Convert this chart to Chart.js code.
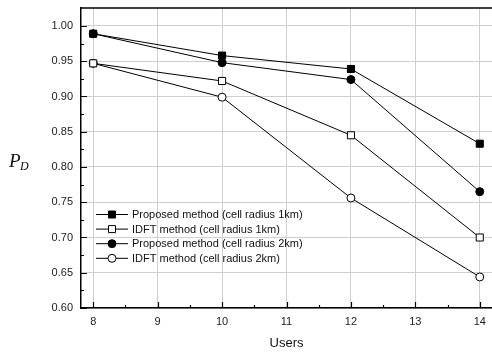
<!DOCTYPE html>
<html lang="en">
  <head>
    <meta charset="UTF-8" />
    <title>PD vs Users</title>
    <script src="https://cdn.jsdelivr.net/npm/chart.js"></script>
    <style>
      html, body { margin: 0; padding: 0; background: #fff; }
      #wrap { width: 492px; height: 354px; position: relative; }
    </style>
  </head>
  <body>
    <div id="wrap"><canvas id="pdChart"></canvas></div>
    <script>
      // data
      const users = [8, 10, 12, 14];
      const proposed1km = [0.989, 0.958, 0.939, 0.833];
      const idft1km = [0.947, 0.922, 0.845, 0.700];
      const proposed2km = [0.989, 0.948, 0.924, 0.765];
      const idft2km = [0.947, 0.899, 0.756, 0.644];
      const xTicks = [8, 9, 10, 11, 12, 13, 14];
      const yTicks = [0.6, 0.65, 0.7, 0.75, 0.8, 0.85, 0.9, 0.95, 1.0];

      const font = "'Liberation Sans', Arial, sans-serif";

      const series = [
        { label: "Proposed method (cell radius 1km)", data: proposed1km, style: "rect", fill: "#000" },
        { label: "IDFT method (cell radius 1km)", data: idft1km, style: "rect", fill: "#fff" },
        { label: "Proposed method (cell radius 2km)", data: proposed2km, style: "circle", fill: "#000" },
        { label: "IDFT method (cell radius 2km)", data: idft2km, style: "circle", fill: "#fff" },
      ];

      function drawMarker(ctx, style, fill, x, y) {
        ctx.save();
        ctx.fillStyle = fill;
        ctx.strokeStyle = "#000";
        ctx.lineWidth = 1;
        ctx.beginPath();
        if (style === "rect") {
          ctx.rect(x - 3.5, y - 3.5, 7, 7);
        } else {
          ctx.arc(x, y, 4, 0, Math.PI * 2);
        }
        ctx.fill();
        ctx.stroke();
        ctx.restore();
      }

      const decorPlugin = {
        id: "decor",
        afterDraw(chart) {
          const ctx = chart.ctx;
          const area = chart.chartArea;
          const xs = chart.scales.x;
          const ys = chart.scales.y;
          ctx.save();
          ctx.strokeStyle = "#000";
          // top frame line
          ctx.lineWidth = 1.5;
          ctx.beginPath();
          ctx.moveTo(area.left, area.top);
          ctx.lineTo(area.right, area.top);
          ctx.stroke();

          // inward ticks, major and minor
          ctx.lineWidth = 1.2;
          ctx.beginPath();
          for (let v = 8; v <= 14.001; v += 0.5) {
            const px = Math.round(xs.getPixelForValue(v)) + 0.5;
            const len = Math.abs(v - Math.round(v)) < 0.01 ? 6 : 3;
            ctx.moveTo(px, area.bottom);
            ctx.lineTo(px, area.bottom - len);
          }
          for (let i = 0; i <= 16; i++) {
            const v = 0.6 + i * 0.025;
            const py = Math.round(ys.getPixelForValue(v)) + 0.5;
            const len = i % 2 === 0 ? 6 : 3;
            ctx.moveTo(area.left, py);
            ctx.lineTo(area.left + len, py);
          }
          ctx.stroke();

          // legend inside the plot
          ctx.font = "11px " + font;
          ctx.fillStyle = "#111";
          ctx.textBaseline = "middle";
          ctx.textAlign = "left";
          series.forEach((s, i) => {
            const y = 214.5 + i * 14.6;
            ctx.strokeStyle = "#000";
            ctx.lineWidth = 1;
            ctx.beginPath();
            ctx.moveTo(96, y);
            ctx.lineTo(128, y);
            ctx.stroke();
            drawMarker(ctx, s.style, s.fill, 112, y);
            ctx.fillStyle = "#111";
            ctx.fillText(s.label, 132, y + 0.5);
          });

          // axis titles
          ctx.font = "13px " + font;
          ctx.textAlign = "center";
          ctx.fillText("Users", (area.left + area.right) / 2, 343);

          ctx.font = "italic 19px 'Liberation Serif', 'Times New Roman', serif";
          ctx.textAlign = "left";
          ctx.fillText("P", 9, 162);
          ctx.font = "italic 12px 'Liberation Serif', 'Times New Roman', serif";
          ctx.fillText("D", 20, 167);
          ctx.restore();
        },
      };

      const ctx = document.getElementById("pdChart").getContext("2d");
      new Chart(ctx, {
        type: "line",
        data: {
          datasets: series.map((s) => ({
            label: s.label,
            data: users.map((u, i) => ({ x: u, y: s.data[i] })),
            borderColor: "#000",
            borderWidth: 1,
            backgroundColor: s.fill,
            pointBackgroundColor: s.fill,
            pointBorderColor: "#000",
            pointBorderWidth: 1,
            pointStyle: s.style,
            pointRadius: s.style === "rect" ? 5 : 4,
            tension: 0,
          })),
        },
        options: {
          responsive: true,
          maintainAspectRatio: false,
          animation: false,
          layout: { autoPadding: false, padding: { top: 8, right: 0, left: 0, bottom: 0 } },
          plugins: {
            legend: { display: false },
            tooltip: { enabled: false },
          },
          scales: {
            x: {
              type: "linear",
              min: 7.81,
              max: 14.19,
              afterFit(scale) {
                scale.height = 46;
                scale.paddingLeft = 0;
                scale.paddingRight = 0;
              },
              afterBuildTicks(scale) {
                scale.ticks = xTicks.map((v) => ({ value: v }));
              },
              grid: { color: "#cfcfcf", lineWidth: 1, drawTicks: false },
              border: { display: true, color: "#000", width: 1.5 },
              ticks: {
                padding: 7,
                color: "#222",
                font: { family: font, size: 11 },
                callback: (v) => String(v),
              },
            },
            y: {
              type: "linear",
              min: 0.6,
              max: 1.0255,
              afterFit(scale) {
                scale.width = 81;
                scale.paddingTop = 0;
                scale.paddingBottom = 0;
              },
              afterBuildTicks(scale) {
                scale.ticks = yTicks.map((v) => ({ value: v }));
              },
              grid: { color: "#cfcfcf", lineWidth: 1, drawTicks: false },
              border: { display: true, color: "#000", width: 1.5 },
              ticks: {
                padding: 8,
                color: "#222",
                font: { family: font, size: 11 },
                callback: (v) => Number(v).toFixed(2),
              },
            },
          },
        },
        plugins: [decorPlugin],
      });
    </script>
  </body>
</html>
